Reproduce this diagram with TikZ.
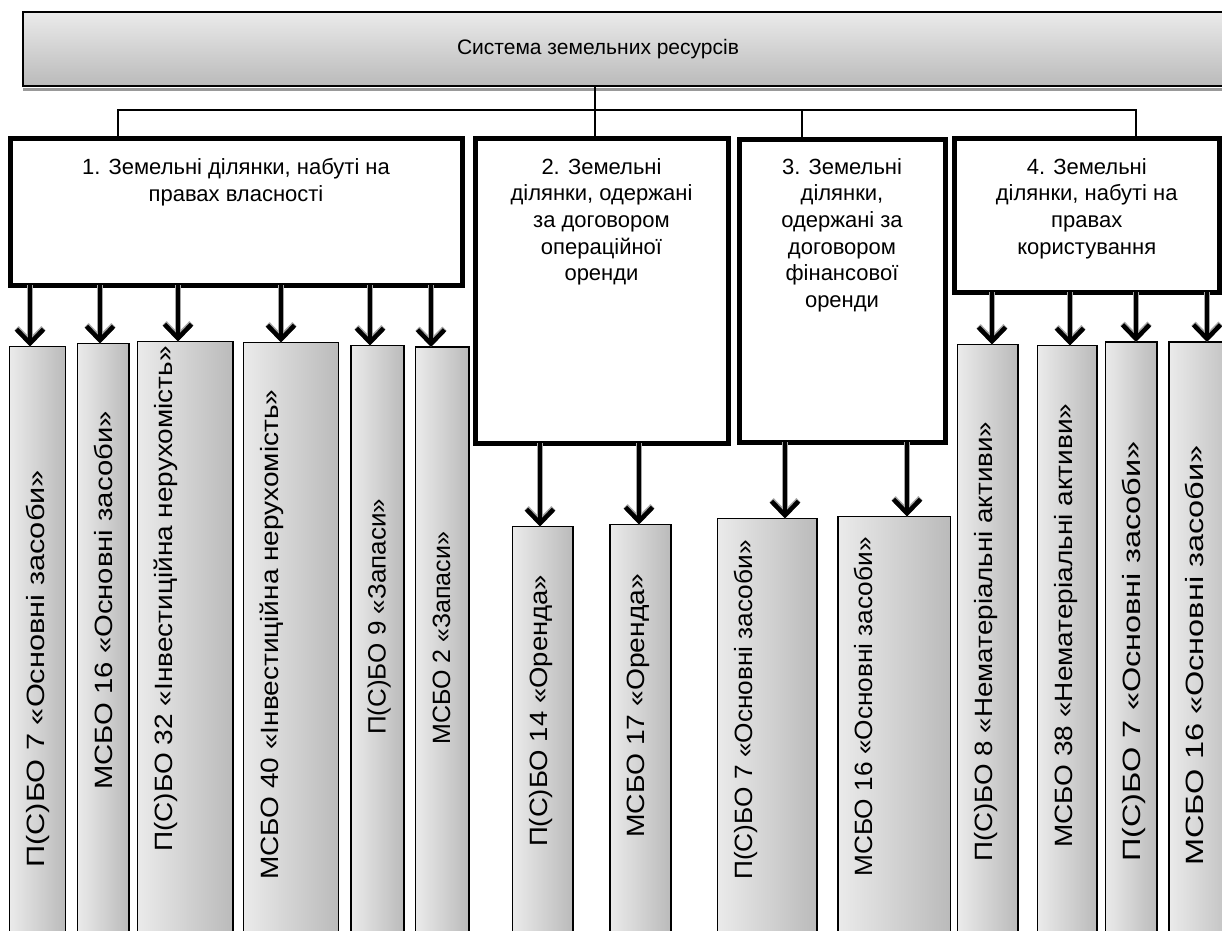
\documentclass[tikz,border=0pt]{standalone}
\usepackage{fontspec}
\setmainfont{Liberation Sans}
\usetikzlibrary{arrows.meta}
\tikzset{
  topbox/.style={draw, line width=2pt, top color=black!8, bottom color=black!27, inner sep=0pt, outer sep=0pt},
  grpbox/.style={draw, line width=5pt, fill=white, inner sep=0pt, outer sep=0pt},
  barbox/.style={draw, line width=1.5pt, left color=black!8, right color=black!27, inner sep=0pt, outer sep=0pt},
  conn/.style={line width=2pt},
  arr/.style={line width=4.5pt, -{Straight Barb[length=14pt,width=27pt]},
    preaction={draw=black!35, line width=6pt}},
  lbl/.style={font=\fontsize{22}{26.7}\selectfont, align=center, inner sep=0pt, anchor=north},
  vlbl/.style={font=\fontsize{25}{30}\selectfont, rotate=90, anchor=base west, inner sep=0pt},
}
\newcommand\mybox[5]{\node[grpbox, anchor=north west, minimum width={(#4-#2)*1pt}, minimum height={(#5-#3)*1pt}] (#1) at (#2,#3) {};}
\newcommand\mybar[7]{\node[barbox, anchor=north west, minimum width={(#3-#2)*1pt}, minimum height={(945-#4)*1pt}] (#1) at (#2,#4) {};
  \node[vlbl, xscale=#7] (#1t) at (#2+34.5,#5) {#6};}
\begin{document}
\begin{tikzpicture}[x=1pt,y=-1pt]
\useasboundingbox (0,0) rectangle (1222,930);
\clip (0,0) rectangle (1222,930);
% top box
\fill[black!40] (23,88) rectangle (1240,90.5);
\node[topbox, anchor=north west, minimum width=1217pt, minimum height=74pt] (top) at (23,12) {};
\node[font=\fontsize{21}{26}\selectfont, anchor=base, inner sep=0pt] (title) at (598,54) {Система земельних ресурсів};
% group boxes
\mybox{b1}{10}{138}{462}{285}
\mybox{b2}{475}{138}{728}{443}
\mybox{b3}{739}{139}{945}{442}
\mybox{b4}{954}{138.5}{1219.5}{292}
\node[lbl] (l1) at ([yshift=-20pt]b1.north) {1. Земельні ділянки, набуті на\\правах власності};
\node[lbl] (l2) at ([yshift=-20pt]b2.north) {2. Земельні\\ділянки, одержані\\за договором\\операційної\\оренди};
\node[lbl] (l3) at ([yshift=-19pt]b3.north) {3. Земельні\\ділянки,\\одержані за\\договором\\фінансової\\оренди};
\node[lbl] (l4) at ([yshift=-19.5pt]b4.north) {4. Земельні\\ділянки, набуті на\\правах\\користування};
% connectors
\draw[conn] (top.south -| 595,0) -- (b2.north -| 595,0);
\draw[conn] (b1.north -| 117.5,0) -- (117.5,109.5) -- (1136,109.5) -- (b4.north -| 1136,0);
\draw[conn] (801.5,109.5) -- (b3.north -| 801.5,0);
% bars
\mybar{bar1}{9.5}{65.5}{346.5}{868}{П(С)БО 7 «Основні засоби»}{1.23}
\mybar{bar2}{77.5}{129}{343.5}{790}{МСБО 16 «Основні засоби»}{1.17}
\mybar{bar3}{137.5}{233}{341.5}{852}{П(С)БО 32 «Інвестиційна нерухомість»}{1.12}
\mybar{bar4}{243.5}{338.5}{342.5}{880}{МСБО 40 «Інвестиційна нерухомість»}{1.12}
\mybar{bar5}{351}{404}{345.5}{735}{П(С)БО 9 «Запаси»}{1.04}
\mybar{bar6}{415.5}{469}{347}{745}{МСБО 2 «Запаси»}{1.0}
\mybar{bar7}{512.5}{573}{526.5}{847}{П(С)БО 14 «Оренда»}{1.1}
\mybar{bar8}{610}{671}{524.5}{838}{МСБО 17 «Оренда»}{1.13}
\mybar{bar9}{717.5}{817}{518.5}{880}{П(С)БО 7 «Основні засоби»}{1.05}
\mybar{bar10}{838}{950.5}{516.5}{877}{МСБО 16 «Основні засоби»}{1.05}
\mybar{bar11}{957.5}{1018}{344.5}{862}{П(С)БО 8 «Нематеріальні активи»}{1.11}
\mybar{bar12}{1037.5}{1097}{345.5}{848}{МСБО 38 «Нематеріальні активи»}{1.12}
\mybar{bar13}{1105.5}{1157}{342}{862}{П(С)БО 7 «Основні засоби»}{1.3}
\mybar{bar14}{1169}{1240}{342}{866}{МСБО 16 «Основні засоби»}{1.3}
% arrows
\draw[arr] (b1.south -| 30,0) -- (bar1.north -| 30,0);
\draw[arr] (b1.south -| 100,0) -- (bar2.north -| 100,0);
\draw[arr] (b1.south -| 178,0) -- (bar3.north -| 178,0);
\draw[arr] (b1.south -| 281,0) -- (bar4.north -| 281,0);
\draw[arr] (b1.south -| 370,0) -- (bar5.north -| 370,0);
\draw[arr] (b1.south -| 431,0) -- (bar6.north -| 431,0);
\draw[arr] (b2.south -| 540,0) -- (bar7.north -| 540,0);
\draw[arr] (b2.south -| 639,0) -- (bar8.north -| 639,0);
\draw[arr] (b3.south -| 785,0) -- (bar9.north -| 785,0);
\draw[arr] (b3.south -| 907,0) -- (bar10.north -| 907,0);
\draw[arr] (b4.south -| 992,0) -- (bar11.north -| 992,0);
\draw[arr] (b4.south -| 1070,0) -- (bar12.north -| 1070,0);
\draw[arr] (b4.south -| 1136,0) -- (bar13.north -| 1136,0);
\draw[arr] (b4.south -| 1207,0) -- (bar14.north -| 1207,0);
\end{tikzpicture}
\end{document}
